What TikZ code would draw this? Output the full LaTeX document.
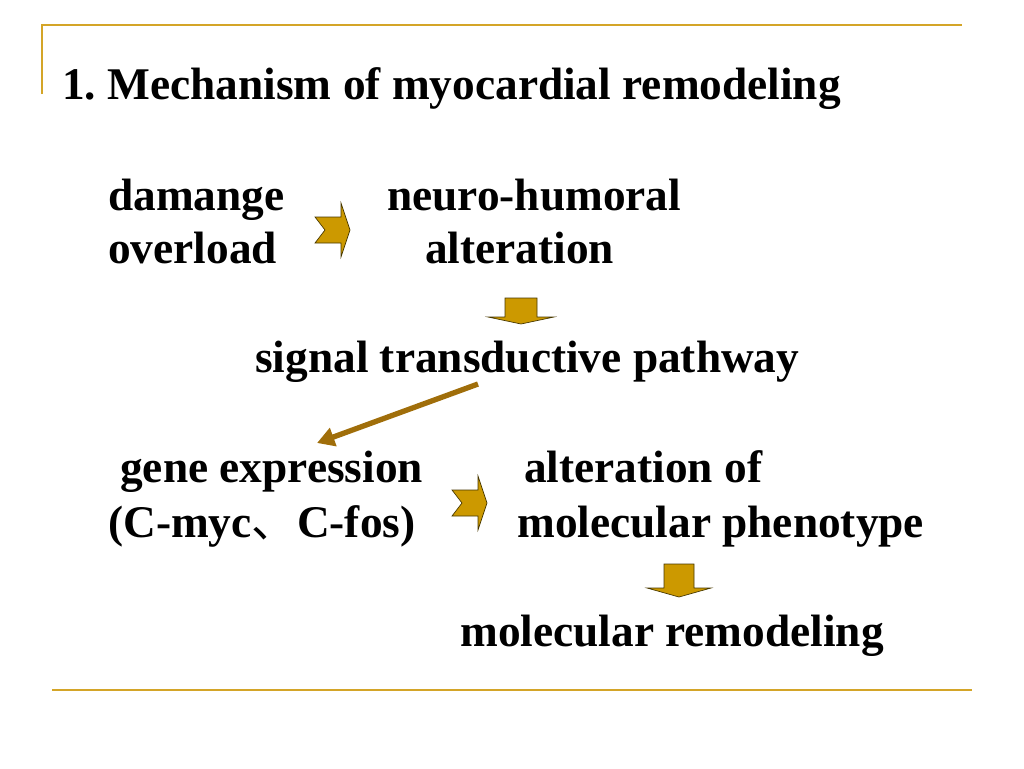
\documentclass[tikz,border=0pt]{standalone}
\usepackage{fontspec}
\setmainfont{Liberation Serif}
\newfontfamily\cjk{Noto Sans CJK SC}
\usetikzlibrary{arrows.meta}

\definecolor{rulegold}{RGB}{212,165,40}
\definecolor{arrowgold}{RGB}{204,153,0}
\definecolor{arrowedge}{RGB}{70,55,0}
\definecolor{linkbrown}{RGB}{160,110,10}

\begin{document}
\begin{tikzpicture}[x = 0.75pt, y = -0.75pt,
	every node/.style = {inner sep = 0pt, anchor = base west, font = \fontsize{34}{40}\selectfont\bfseries},
	heading/.style = {font = \fontsize{34}{40}\selectfont\bfseries},
	blockarrow/.style = {fill = arrowgold, draw = arrowedge, line width = 0.5pt},
	rule/.style = {draw = rulegold, line width = 2pt}]

	\useasboundingbox (0, 0) rectangle (1024, 768);

	% slide frame
	\draw [rule] (42, 94) -- (42, 25) -- (962, 25);
	\draw [rule] (52, 690) -- (972, 690);

	\node [heading] (title) at (62, 99) {1.\ Mechanism of myocardial remodeling};

	% first step
	\node (damage) at (108, 210) {damange};
	\node (overload) at (108, 263) {overload};
	\node (neuro) at (387, 210) {neuro-humoral};
	\node (alter) at (425, 263) {alteration};

	\draw [blockarrow, shift = {(315, 230)}] (0, -13) -- (26, -13) -- (26, -27) -- (35, 0) -- (26, 27) -- (26, 13) -- (0, 13) -- (10, 0) -- cycle;
	\draw [blockarrow, shift = {(521, 298)}] (-16, 0) -- (16, 0) -- (16, 19) -- (33, 19) -- (0, 26) -- (-33, 19) -- (-16, 19) -- cycle;

	\node (signal) at (255, 372) {signal transductive pathway};

	% second step
	\coordinate (sigfoot) at (478, 384);
	\coordinate (genetop) at (317, 443);
	\draw [linkbrown, line width = 4pt, -{Triangle[length = 13pt, width = 14pt]}] (sigfoot) -- (genetop);

	\node (gene) at (120, 482) {gene expression};
	\node (fos) at (108, 537) {(C-myc{\cjk\mdseries 、}C-fos)};
	\node (altof) at (524, 482) {alteration of};
	\node (pheno) at (517, 537) {molecular phenotype};

	\draw [blockarrow, shift = {(452, 503)}] (0, -13) -- (26, -13) -- (26, -27) -- (35, 0) -- (26, 27) -- (26, 13) -- (0, 13) -- (10, 0) -- cycle;
	\draw [blockarrow, shift = {(679, 564)}] (-15, 0) -- (15, 0) -- (15, 24) -- (32, 24) -- (0, 33) -- (-32, 24) -- (-15, 24) -- cycle;

	\node (remodel) at (460, 646) {molecular remodeling};

\end{tikzpicture}
\end{document}
